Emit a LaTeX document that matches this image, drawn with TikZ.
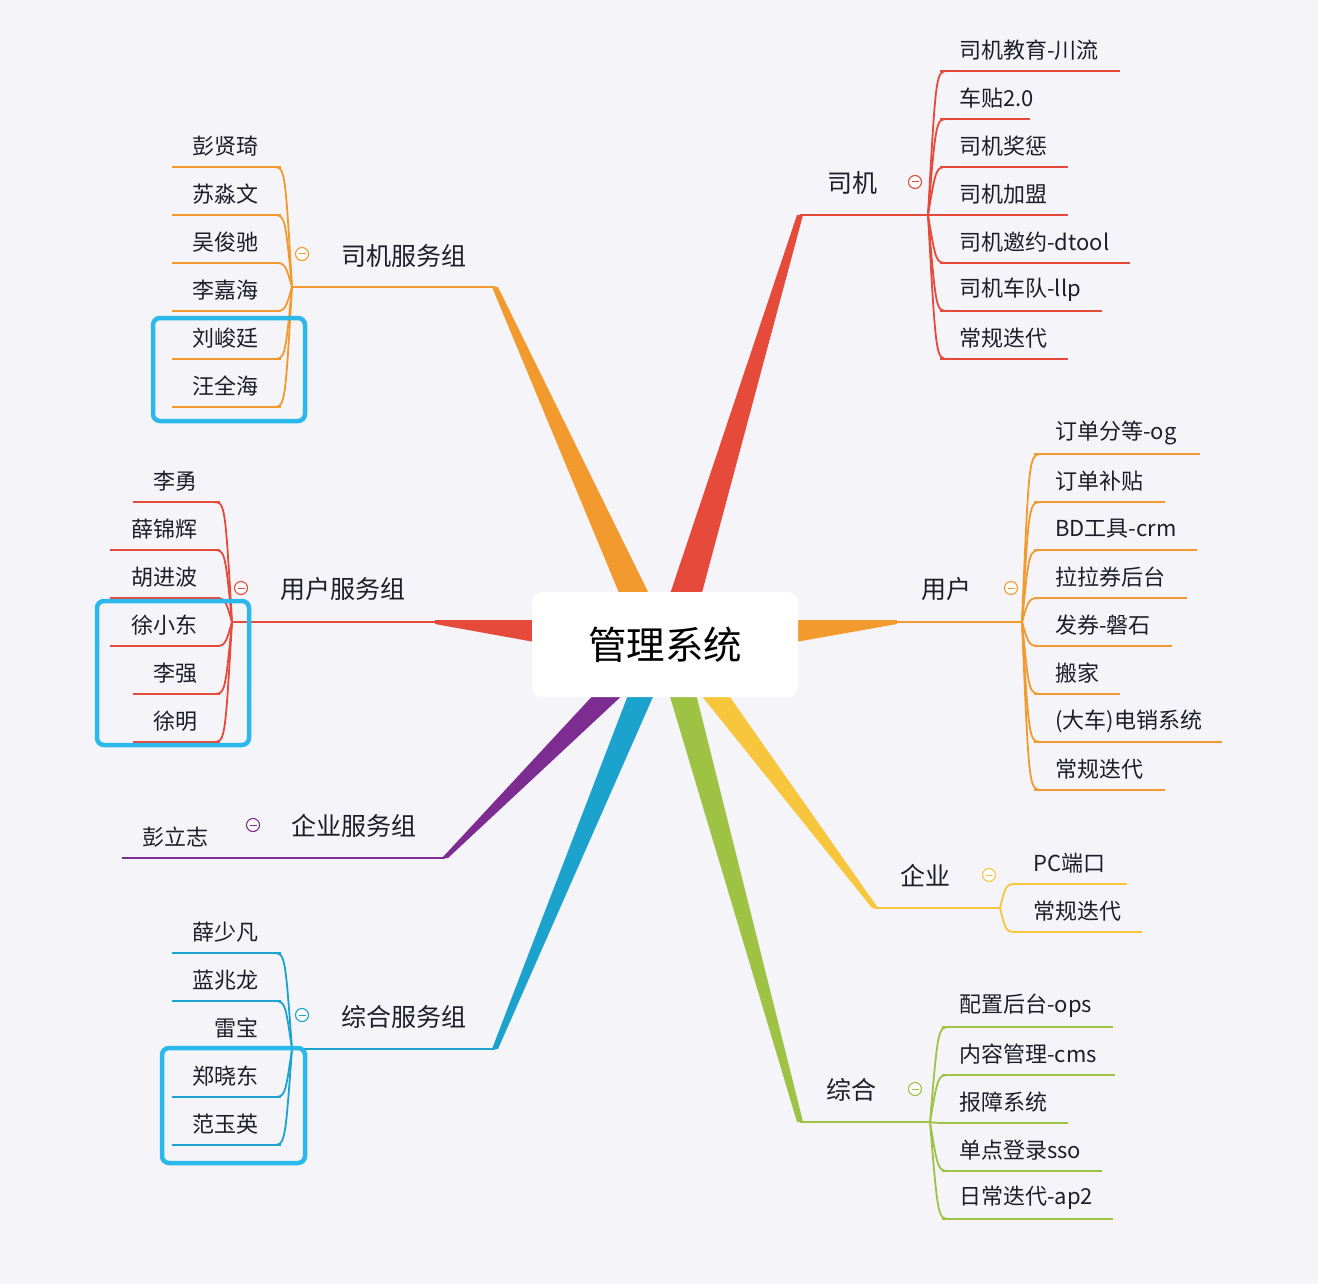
\documentclass[tikz,border=0pt]{standalone}
\usepackage{fontspec}
\setmainfont{Noto Sans CJK SC}
\definecolor{bg}{HTML}{F5F4F9}
\definecolor{cred}{HTML}{E64A3B}
\definecolor{corange}{HTML}{F39A2E}
\definecolor{cyellow}{HTML}{F7C63D}
\definecolor{cgreen}{HTML}{9DC244}
\definecolor{cblue}{HTML}{1BA3CD}
\definecolor{cpurple}{HTML}{7D2C91}
\definecolor{chl}{HTML}{2BB8EB}
\definecolor{ctext}{HTML}{1E1E28}
\begin{document}
\begin{tikzpicture}[x=1pt,y=-1pt,
  leaf/.style={inner sep=0pt,text=ctext,font=\fontsize{22}{25}\selectfont},
  grp/.style={inner sep=0pt,text=ctext,font=\fontsize{25}{29}\selectfont},
  conn/.style={line width=1.8pt,line join=round},
  uline/.style={line width=1.4pt},
  hl/.style={draw=chl,line width=4.5pt,rounded corners=7pt},
  collapse/.style={circle,draw=#1,fill=white,line width=1.1pt,minimum size=13pt,inner sep=0pt,
    path picture={\draw[#1,line width=1pt]([xshift=-3.5pt]path picture bounding box.center)--([xshift=3.5pt]path picture bounding box.center);}}]
\useasboundingbox (0,0) rectangle (1318,1284);
\fill[bg] (0,0) rectangle (1318,1284);

% branch tips and junctions
\coordinate (tsj) at (800,215);   \coordinate (jsj) at (928,215);
\coordinate (tsf) at (495,287);   \coordinate (jsf) at (292,287);
\coordinate (tyh) at (897,622);   \coordinate (jyh) at (1022,622);
\coordinate (tyf) at (435,622);   \coordinate (jyf) at (232,622);
\coordinate (tqy) at (875,908);   \coordinate (jqy) at (1000,908);
\coordinate (tqf) at (445,858);   \coordinate (jqf) at (230,858);
\coordinate (tzh) at (800,1122);  \coordinate (jzh) at (930,1122);
\coordinate (tzf) at (495,1049);  \coordinate (jzf) at (292,1049);

% tapered main branches
\fill[cred] (668,600) -- (700,600) -- (803,215) -- (797,215) -- cycle;
\fill[corange] (622,600) -- (652,600) -- (498,287) -- (492,287) -- cycle;
\fill[corange] (790,620) -- (790,643) -- (897,624) -- (897,620) -- cycle;
\fill[cred] (540,620) -- (540,643) -- (435,624) -- (435,620) -- cycle;
\fill[cpurple] (598,690) -- (628,690) -- (448,858) -- (442,858) -- cycle;
\fill[cblue] (630,690) -- (656,690) -- (498,1049) -- (492,1049) -- cycle;
\fill[cgreen] (668,690) -- (695,690) -- (803,1122) -- (797,1122) -- cycle;
\fill[cyellow] (697,690) -- (725,690) -- (878,908) -- (872,908) -- cycle;

% center node
\node[fill=white,rounded corners=10pt,minimum width=266pt,minimum height=105pt,inner sep=0pt,
  text=black,font=\fontsize{38.5}{42}\selectfont] (center) at (665,644.5) {管理系统};

% horizontal main lines
\draw[cred,conn] (tsj) -- (jsj);
\draw[corange,conn] (tsf) -- (jsf);
\draw[corange,conn] (tyh) -- (jyh);
\draw[cred,conn] (tyf) -- (jyf);
\draw[cyellow,conn] (tqy) -- (jqy);
\draw[cpurple,conn] (tqf) -- (jqf);
\draw[cgreen,conn] (tzh) -- (jzh);
\draw[cblue,conn] (tzf) -- (jzf);

% group labels and collapse icons
\node[grp] (lsj) at (852,183) {司机};
\node[collapse=cred] (csj) at (915,182) {};
\node[grp] (lsf) at (404,256) {司机服务组};
\node[collapse=corange] (csf) at (302,254) {};
\node[grp] (lyh) at (946,589) {用户};
\node[collapse=corange] (cyh) at (1011,588) {};
\node[grp] (lyf) at (343,589) {用户服务组};
\node[collapse=cred] (cyf) at (241,588) {};
\node[grp] (lqy) at (925,876) {企业};
\node[collapse=cyellow] (cqy) at (989,875) {};
\node[grp] (lqf) at (354,826) {企业服务组};
\node[collapse=cpurple] (cqf) at (253,825) {};
\node[grp] (lzh) at (851,1090) {综合};
\node[collapse=cgreen] (czh) at (915,1089) {};
\node[grp] (lzf) at (404,1017) {综合服务组};
\node[collapse=cblue] (czf) at (302,1015) {};

% 司机 children
\foreach \n/\t/\y/\e in {a/司机教育-川流/50/1120,b/车贴2.0/98/1030,c/司机奖惩/146/1068,d/司机加盟/194/1068,e/司机邀约-dtool/242/1130,f/司机车队-llp/290/1102,g/常规迭代/338/1068}{
  \node[leaf,anchor=west] (sj-\n) at (959,\y) {\t};
  \coordinate (usj-\n) at (\e,\y+21);
  \draw[cred,conn] (jsj) .. controls (936,\y+21) .. (948,\y+21);
  \draw[cred,uline] (940,\y+21) -- (usj-\n);
}
% 用户 children
\foreach \n/\t/\y/\e in {a/订单分等-og/433/1200,b/订单补贴/481/1165,c/BD工具-crm/529/1197,d/拉拉券后台/577/1187,e/发券-磐石/625/1172,f/搬家/673/1120,g/(大车)电销系统/721/1222,h/常规迭代/769/1165}{
  \node[leaf,anchor=west] (yh-\n) at (1055,\y) {\t};
  \coordinate (uyh-\n) at (\e,\y+21);
  \draw[corange,conn] (jyh) .. controls (1029,\y+21) .. (1042,\y+21);
  \draw[corange,uline] (1034,\y+21) -- (uyh-\n);
}
% 企业 children
\foreach \n/\t/\x/\y/\e in {a/PC端口/1033/863/1127,b/常规迭代/1033/911/1142}{
  \node[leaf,anchor=west] (qy-\n) at (\x,\y) {\t};
  \coordinate (uqy-\n) at (\e,\y+21);
  \draw[cyellow,conn] (jqy) .. controls (1006,\y+21) .. (1018,\y+21);
  \draw[cyellow,uline] (1012,\y+21) -- (uqy-\n);
}
% 综合 children
\foreach \n/\t/\y/\e in {a/配置后台-ops/1006/1113,b/内容管理-cms/1054/1115,c/报障系统/1102/1068,d/单点登录sso/1150/1102,e/日常迭代-ap2/1198/1113}{
  \node[leaf,anchor=west] (zh-\n) at (959,\y) {\t};
  \coordinate (uzh-\n) at (\e,\y+21);
  \draw[cgreen,conn] (jzh) .. controls (938,\y+21) .. (950,\y+21);
  \draw[cgreen,uline] (942,\y+21) -- (uzh-\n);
}
% 司机服务组 children
\foreach \n/\t/\y/\s in {a/彭贤琦/146/172,b/苏淼文/194/172,c/吴俊驰/242/172,d/李嘉海/290/172,e/刘峻廷/338/172,f/汪全海/386/172}{
  \node[leaf,anchor=east] (sf-\n) at (259,\y) {\t};
  \coordinate (usf-\n) at (\s,\y+21);
  \draw[corange,conn] (jsf) .. controls (285,\y+21) .. (273,\y+21);
  \draw[corange,uline] (281,\y+21) -- (usf-\n);
}
% 用户服务组 children
\foreach \n/\t/\y/\s in {a/李勇/481/133,b/薛锦辉/529/110,c/胡进波/577/110,d/徐小东/625/110,e/李强/673/133,f/徐明/721/133}{
  \node[leaf,anchor=east] (yf-\n) at (198,\y) {\t};
  \coordinate (uyf-\n) at (\s,\y+21);
  \draw[cred,conn] (jyf) .. controls (225,\y+21) .. (213,\y+21);
  \draw[cred,uline] (220,\y+21) -- (uyf-\n);
}
% 企业服务组 child
\node[leaf,anchor=east] (qf-a) at (209,837) {彭立志};
\coordinate (uqf-a) at (122,858);
\draw[cpurple,uline] (jqf) -- (uqf-a);
% 综合服务组 children
\foreach \n/\t/\y/\s in {a/薛少凡/932/172,b/蓝兆龙/980/172,c/雷宝/1028/195,d/郑晓东/1076/172,e/范玉英/1124/172}{
  \node[leaf,anchor=east] (zf-\n) at (259,\y) {\t};
  \coordinate (uzf-\n) at (\s,\y+21);
  \draw[cblue,conn] (jzf) .. controls (285,\y+21) .. (273,\y+21);
  \draw[cblue,uline] (281,\y+21) -- (uzf-\n);
}

% highlight boxes
\draw[hl] (153,318) rectangle (305,421);
\draw[hl] (97,601) rectangle (249,745);
\draw[hl] (162,1048) rectangle (305,1163);
\end{tikzpicture}
\end{document}
